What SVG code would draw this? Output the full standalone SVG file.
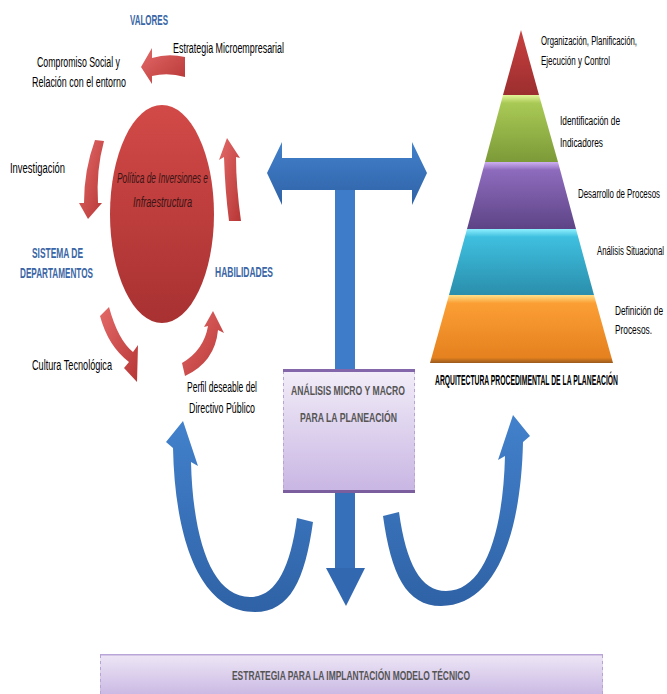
<svg xmlns="http://www.w3.org/2000/svg" width="667" height="694" viewBox="0 0 667 694">
<defs>
<linearGradient id="gRed" x1="0" y1="0" x2="0" y2="1"><stop offset="0" stop-color="#d24a48"/><stop offset="1" stop-color="#a83131"/></linearGradient>
<linearGradient id="gRedArrow" x1="0" y1="0" x2="1" y2="1"><stop offset="0" stop-color="#e36a68"/><stop offset="1" stop-color="#b73636"/></linearGradient>
<linearGradient id="gBlue" x1="0" y1="0" x2="0" y2="1"><stop offset="0" stop-color="#4281cc"/><stop offset="1" stop-color="#2f62a6"/></linearGradient>
<linearGradient id="gBox" x1="0" y1="0" x2="0" y2="1"><stop offset="0" stop-color="#f2edf8"/><stop offset="1" stop-color="#c8b5e3"/></linearGradient>
<linearGradient id="gBox2" x1="0" y1="0" x2="0" y2="1"><stop offset="0" stop-color="#eee7f6"/><stop offset="1" stop-color="#cbbae4"/></linearGradient>
<linearGradient id="p1" x1="0" y1="0" x2="0" y2="1"><stop offset="0" stop-color="#c9403f"/><stop offset="1" stop-color="#9c2e2f"/></linearGradient>
<linearGradient id="p2" x1="0" y1="0" x2="0" y2="1"><stop offset="0" stop-color="#e4f59a"/><stop offset="0.12" stop-color="#a9c955"/><stop offset="1" stop-color="#7c9a38"/></linearGradient>
<linearGradient id="p3" x1="0" y1="0" x2="0" y2="1"><stop offset="0" stop-color="#cdb0f0"/><stop offset="0.12" stop-color="#8e6bbd"/><stop offset="1" stop-color="#5d4486"/></linearGradient>
<linearGradient id="p4" x1="0" y1="0" x2="0" y2="1"><stop offset="0" stop-color="#8ff0ff"/><stop offset="0.12" stop-color="#3fbfdf"/><stop offset="1" stop-color="#2a8eac"/></linearGradient>
<linearGradient id="p5" x1="0" y1="0" x2="0" y2="1"><stop offset="0" stop-color="#ffe08a"/><stop offset="0.12" stop-color="#fb9f34"/><stop offset="0.92" stop-color="#e5811f"/><stop offset="1" stop-color="#9a5a1c"/></linearGradient>
<style>
.lbl{font-family:"Liberation Sans","DejaVu Sans",sans-serif;font-size:14px;fill:#000;}
.sm{font-family:"Liberation Sans","DejaVu Sans",sans-serif;font-size:12px;fill:#000;}
.blu{font-family:"Liberation Sans","DejaVu Sans",sans-serif;font-size:15px;font-weight:bold;fill:#3a66a6;}
.box{font-family:"Liberation Sans","DejaVu Sans",sans-serif;font-size:12px;font-weight:bold;fill:#555;}
.ell{font-family:"Liberation Sans","DejaVu Sans",sans-serif;font-size:14px;font-style:italic;fill:#3a1414;}
</style>
</defs>
<rect width="667" height="694" fill="#fff"/>

<g id="connectors">
  <path d="M185,57 Q168,53 152,58 L152,48 L141,67 L152,84 L152,76 Q168,72 185,77 Z" fill="url(#gRedArrow)"/>
  <path d="M95,140 L104,141 Q96,170 98,203 L102,203 L88,219 L79,203 L84,203 Q84,170 95,140 Z" fill="url(#gRedArrow)"/>
  <path d="M229,221 L241,221 Q236,185 236,157 L240,158 L227,138 L219,160 L224,157 Q225,190 229,221 Z" fill="url(#gRedArrow)"/>
  <path d="M100,316 L109,307 Q118,340 133,352 L138,345 L137,382 L124,368 L129,362 Q108,346 100,316 Z" fill="url(#gRedArrow)"/>
  <path d="M182,363 Q204,350 208,326 L204,327 L213,311 L224,333 L218,330 Q215,362 185,376 Z" fill="url(#gRedArrow)"/>

  <path d="M267,173 L282,142 L282,158 L412,158 L412,142 L427,173 L412,205 L412,190 L282,190 L282,205 Z" fill="url(#gBlue)"/>
  <rect x="335" y="190" width="20" height="181" fill="#3e7bc8"/>
  <rect x="335" y="492" width="20" height="78" fill="#3670ba"/>
  <path d="M326,568 L365,568 L346,606 Z" fill="#3168b0"/>

  <path d="M173,448 C175,540 200,612 255,612 C290,612 305,580 313,522 L297,518 C290,570 275,597 250,597 C212,597 193,540 191,462 L198,466 L183,421 L166,442 Z" fill="url(#gBlue)"/>
  <path d="M173,448 C175,540 200,612 255,612 C290,612 305,580 313,522 L297,518 C290,570 275,597 250,597 C212,597 193,540 191,462 L198,466 L183,421 L166,442 Z" fill="url(#gBlue)" transform="translate(696,-6) scale(-1,1)"/>
</g>

<g id="ellipse">
  <ellipse cx="162" cy="214" rx="52" ry="109" fill="url(#gRed)"/>
  <text class="ell" x="117" y="183" textLength="91" lengthAdjust="spacingAndGlyphs">Política de Inversiones e</text>
  <text class="ell" x="133" y="207" textLength="59" lengthAdjust="spacingAndGlyphs">Infraestructura</text>
</g>

<g id="labels-left">
  <text class="blu" x="130" y="25" textLength="38" lengthAdjust="spacingAndGlyphs">VALORES</text>
  <text class="lbl" x="173" y="53" textLength="111" lengthAdjust="spacingAndGlyphs">Estrategia Microempresarial</text>
  <text class="lbl" x="37" y="67" textLength="83" lengthAdjust="spacingAndGlyphs">Compromiso Social y</text>
  <text class="lbl" x="32" y="87" textLength="94" lengthAdjust="spacingAndGlyphs">Relación con el entorno</text>
  <text class="lbl" x="10" y="173" textLength="55" lengthAdjust="spacingAndGlyphs">Investigación</text>
  <text class="blu" x="32" y="258" textLength="51" lengthAdjust="spacingAndGlyphs">SISTEMA DE</text>
  <text class="blu" x="20" y="278" textLength="73" lengthAdjust="spacingAndGlyphs">DEPARTAMENTOS</text>
  <text class="blu" x="215" y="277" textLength="58" lengthAdjust="spacingAndGlyphs">HABILIDADES</text>
  <text class="lbl" x="32" y="370" textLength="80" lengthAdjust="spacingAndGlyphs">Cultura Tecnológica</text>
  <text class="lbl" x="187" y="392" textLength="70" lengthAdjust="spacingAndGlyphs">Perfil deseable del</text>
  <text class="lbl" x="189" y="413" textLength="66" lengthAdjust="spacingAndGlyphs">Directivo Público</text>
</g>

<g id="pyramid">
  <path d="M521,30 L539,95 L503,95 Z" fill="url(#p1)"/>
  <path d="M503,95 L539,95 L558,162 L485,162 Z" fill="url(#p2)"/>
  <path d="M485,162 L558,162 L576,229 L467,229 Z" fill="url(#p3)"/>
  <path d="M467,229 L576,229 L594,295 L449,295 Z" fill="url(#p4)"/>
  <path d="M449,295 L594,295 L613,363 L430,363 Z" fill="url(#p5)"/>
  <text class="sm" x="541" y="45" textLength="96" lengthAdjust="spacingAndGlyphs">Organización, Planificación,</text>
  <text class="sm" x="541" y="65" textLength="69" lengthAdjust="spacingAndGlyphs">Ejecución y Control</text>
  <text class="sm" x="560" y="125" textLength="60" lengthAdjust="spacingAndGlyphs">Identificación de</text>
  <text class="sm" x="560" y="147" textLength="43" lengthAdjust="spacingAndGlyphs">Indicadores</text>
  <text class="sm" x="578" y="198" textLength="82" lengthAdjust="spacingAndGlyphs">Desarrollo de Procesos</text>
  <text class="sm" x="597" y="255" textLength="67" lengthAdjust="spacingAndGlyphs">Análisis Situacional</text>
  <text class="sm" x="615" y="315" textLength="48" lengthAdjust="spacingAndGlyphs">Definición de</text>
  <text class="sm" x="615" y="334" textLength="37" lengthAdjust="spacingAndGlyphs">Procesos.</text>
  <text class="lbl" x="435" y="385" textLength="183" lengthAdjust="spacingAndGlyphs" font-weight="bold">ARQUITECTURA PROCEDIMENTAL DE LA PLANEACIÓN</text>
</g>

<g id="analisis">
  <rect x="283" y="370" width="132" height="123" fill="url(#gBox)"/>
  <line x1="283.5" y1="371" x2="283.5" y2="492" stroke="#b7a3d6" stroke-dasharray="3,3"/>
  <line x1="414.5" y1="371" x2="414.5" y2="492" stroke="#b7a3d6" stroke-dasharray="3,3"/>
  <rect x="283" y="369" width="132" height="3" fill="#8467aa"/>
  <rect x="283" y="490" width="132" height="3" fill="#7a5e9e"/>
  <text class="box" x="291" y="395" textLength="114" lengthAdjust="spacingAndGlyphs">ANÁLISIS MICRO Y MACRO</text>
  <text class="box" x="300" y="422" textLength="97" lengthAdjust="spacingAndGlyphs">PARA LA PLANEACIÓN</text>
</g>

<g id="estrategia">
  <rect x="100" y="654" width="503" height="40" fill="url(#gBox2)"/>
  <rect x="100" y="654" width="503" height="1.5" fill="#b9a5d8"/>
  <line x1="100.5" y1="655" x2="100.5" y2="694" stroke="#b7a3d6" stroke-dasharray="3,3"/>
  <line x1="602.5" y1="655" x2="602.5" y2="694" stroke="#b7a3d6" stroke-dasharray="3,3"/>
  <text class="box" x="232" y="680" textLength="238" lengthAdjust="spacingAndGlyphs">ESTRATEGIA PARA LA IMPLANTACIÓN MODELO TÉCNICO</text>
</g>
</svg>
